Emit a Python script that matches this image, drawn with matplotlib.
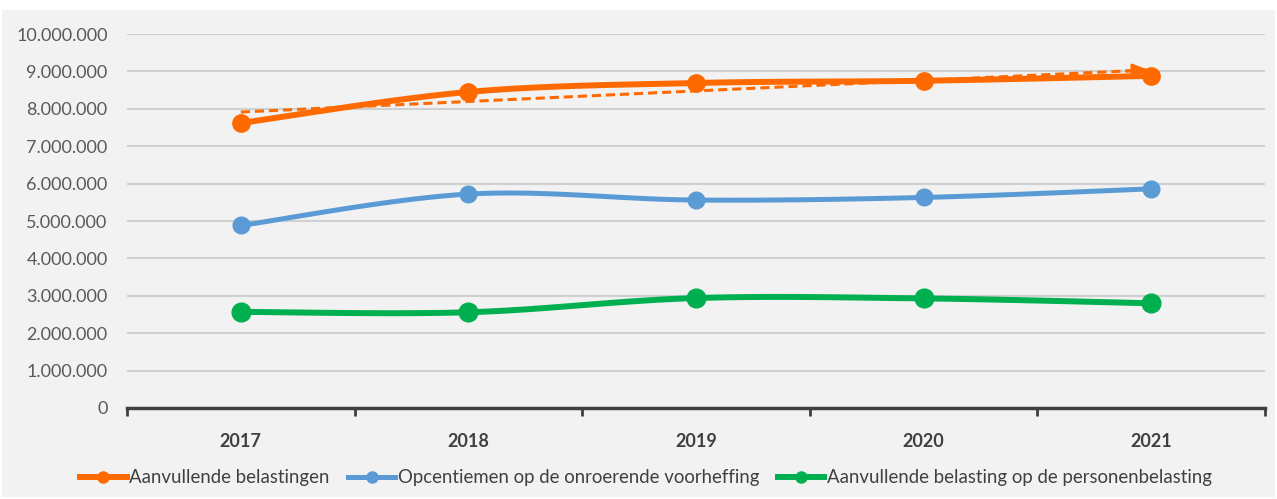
import matplotlib
matplotlib.use("Agg")
import matplotlib.pyplot as plt
from matplotlib.patches import Rectangle
from matplotlib.ticker import FuncFormatter
import numpy as np

years = ['2017', '2018', '2019', '2020', '2021']
aanvullende = [7620000, 8450000, 8690000, 8750000, 8880000]
opcentiemen = [4880000, 5720000, 5560000, 5630000, 5860000]
personen = [2570000, 2560000, 2940000, 2930000, 2800000]
labels = ['Aanvullende belastingen',
          'Opcentiemen op de onroerende voorheffing',
          'Aanvullende belasting op de personenbelasting']

plt.rcParams['font.family'] = ['Lato', 'DejaVu Sans']


def smooth(xs, ys, n=30):
    # excel-like smoothed line: bezier segments, catmull-rom control points
    xs = np.asarray(xs, float)
    ys = np.asarray(ys, float)
    px, py = [], []
    for i in range(len(xs) - 1):
        x0, y0 = xs[max(i - 1, 0)], ys[max(i - 1, 0)]
        x1, y1 = xs[i], ys[i]
        x2, y2 = xs[i + 1], ys[i + 1]
        x3, y3 = xs[min(i + 2, len(xs) - 1)], ys[min(i + 2, len(ys) - 1)]
        c1x, c1y = x1 + (x2 - x0) / 6, y1 + (y2 - y0) / 6
        c2x, c2y = x2 - (x3 - x1) / 6, y2 - (y3 - y1) / 6
        t = np.linspace(0, 1, n)
        bx = (1-t)**3*x1 + 3*(1-t)**2*t*c1x + 3*(1-t)*t**2*c2x + t**3*x2
        by = (1-t)**3*y1 + 3*(1-t)**2*t*c1y + 3*(1-t)*t**2*c2y + t**3*y2
        px.extend(bx)
        py.extend(by)
    return px, py


fig = plt.figure(figsize=(12.77, 4.99), dpi=100)
fig.patch.set_facecolor('white')
fig.add_artist(Rectangle((2/1277, 2/499), 1273/1277, 487/499,
                         transform=fig.transFigure, facecolor='#f2f2f2',
                         edgecolor='none', zorder=0))

ax = fig.add_axes([127/1277, 1 - 408/499, 1138/1277, 374/499])
ax.set_facecolor('#f2f2f2')

x = np.arange(len(years))
series = [
    (aanvullende, '#ff6a00', 4.3, 12.5),
    (opcentiemen, '#5b9bd5', 3.6, 12),
    (personen, '#00b050', 4.3, 13.5),
]
for (vals, col, lw, ms), lab in zip(series, labels):
    sx, sy = smooth(x, vals)
    ax.plot(sx, sy, color=col, lw=lw, solid_capstyle='round', zorder=3)
    ax.plot(x, vals, 'o', color=col, ms=ms, zorder=4)
    ax.plot([], [], color=col, lw=lw, marker='o', ms=8, label=lab)

# linear trend for aanvullende belastingen
coef = np.polyfit(x, aanvullende, 1)
trend = np.polyval(coef, x)
ax.plot(x, trend, color='#ff6a00', lw=2.2, ls=(0, (3, 1.6)), zorder=3)
ax.annotate('', xy=(x[-1], trend[-1]), xytext=(x[-1] - 0.12, trend[-1] - 0.12 * coef[0]),
            arrowprops=dict(arrowstyle='-|>,head_length=0.9,head_width=0.4',
                            color='#ff6a00', lw=2.2), zorder=3)

ax.set_xlim(-0.5, 4.5)
ax.set_ylim(0, 10000000)
ax.set_yticks(np.arange(0, 10000001, 1000000))
ax.yaxis.set_major_formatter(FuncFormatter(lambda v, p: f'{int(v):,}'.replace(',', '.')))
ax.grid(axis='y', color='#d0d0d0', lw=1.5)
ax.set_axisbelow(True)

ax.set_xticks(x)
ax.set_xticklabels(years, fontweight='bold')
ax.set_xticks(np.arange(-0.5, 5, 1), minor=True)
ax.tick_params(axis='x', which='major', length=0, pad=18, labelsize=13, labelcolor='#404040')
ax.tick_params(axis='x', which='minor', length=6, width=2, color='#404040', direction='out')
ax.tick_params(axis='y', length=0, pad=14, labelsize=13, labelcolor='#595959')

for s in ['top', 'right', 'left']:
    ax.spines[s].set_visible(False)
ax.spines['bottom'].set_color('#404040')
ax.spines['bottom'].set_linewidth(2.5)

leg = fig.legend(loc='center', bbox_to_anchor=(0.506, 1 - 478/499), ncol=3,
                 frameon=False, fontsize=13.4, handlelength=2.5, handletextpad=0.15,
                 columnspacing=1.0)
for t in leg.get_texts():
    t.set_color('#404040')

fig.savefig('out.png', dpi=100, facecolor='white')
